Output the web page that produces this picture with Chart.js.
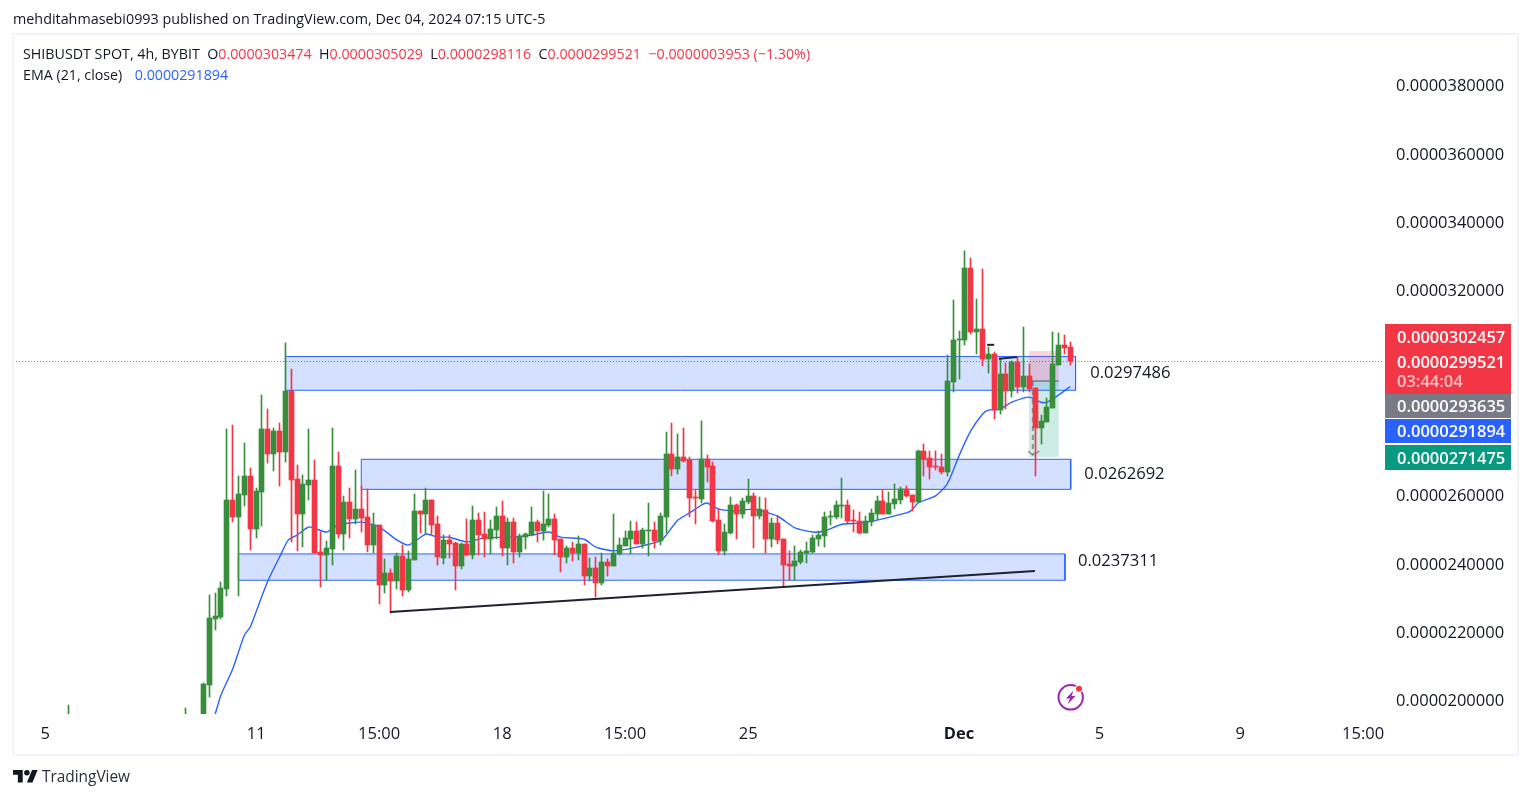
<!DOCTYPE html>
<html>
<head>
<meta charset="utf-8">
<title>SHIBUSDT</title>
<script src="https://cdn.jsdelivr.net/npm/chart.js@4"></script>
<style>
  html, body { margin: 0; padding: 0; background: #fff; width: 1529px; height: 798px; overflow: hidden; }
  body { font-family: "Open Sans", sans-serif; color: #131722; }
  .abs { position: absolute; white-space: pre; }
  #frame { left: 12px; top: 33px; width: 1503px; height: 719px; border: 2px solid #f0f3fa; }
  #chart { position: absolute; left: 0; top: 0; }
  #published { left: 13px; top: 9px; font-size: 14.35px; line-height: 20px; }
  #ohlc { left: 23px; top: 44px; font-size: 14.25px; line-height: 20px; }
  #ema { left: 23px; top: 65px; font-size: 14.25px; line-height: 20px; }
  #ema .blue { margin-left: 5px; }
  #brand { left: 42px; top: 767px; font-size: 15.4px; line-height: 20px; color: #2a2e39; }
  .red { color: #f23645; }
  .blue { color: #2962ff; }
</style>
</head>
<body>
<div id="frame" class="abs"></div>
<canvas id="chart" width="1529" height="798"></canvas>
<div id="published" class="abs">mehditahmasebi0993 published on TradingView.com, Dec 04, 2024 07:15 UTC-5</div>
<div id="ohlc" class="abs">SHIBUSDT SPOT, 4h, BYBIT  O<span class="red">0.0000303474</span>  H<span class="red">0.0000305029</span>  L<span class="red">0.0000298116</span>  C<span class="red">0.0000299521</span>  <span class="red">−0.0000003953 (−1.30%)</span></div>
<div id="ema" class="abs">EMA (21, close)  <span class="blue">0.0000291894</span></div>
<svg class="abs" style="left:13px;top:770px" width="25" height="12.5" viewBox="0 4 36 18" fill="#131722">
  <path d="M14 22H7V11H0V4h14v18zM28 22h-8l7.5-18h8L28 22z"></path><circle cx="20" cy="8" r="4"></circle>
</svg>
<div id="brand" class="abs">TradingView</div>
<svg class="abs" style="left:1056px;top:683px" width="30" height="30" viewBox="0 0 30 30">
  <circle cx="14.7" cy="14.3" r="12.2" fill="#fff" stroke="#9c27b0" stroke-width="2"></circle>
  <path d="M17.5 7.5 L10 15.5 L14 15.5 L11.5 21.5 L19.5 13 L15.5 13 Z" fill="#9c27b0"></path>
  <circle cx="23" cy="5.8" r="4.2" fill="#fff"></circle><circle cx="23" cy="5.8" r="3" fill="#f23645"></circle>
</svg>

<script>
// prices are in units of 0.000001 USDT, one slot is one 4h candle, slot 0 = Nov 5
const candleSlots = [4, 24, 27, ...Array.from({ length: 148 }, (_, i) => 28 + i)];

const opens = [
  19.0, 19.0, 19.3,
  20.45, 22.39, 22.44, 23.26, 25.87, 25.37, 26.01, 26.57, 25.02, 26.10, 27.95, 27.21, 27.89, 27.27, 29.06, 26.48,
  25.46, 26.31, 26.45, 24.35, 24.26, 24.43, 26.86, 24.87, 25.81, 25.31, 25.60, 25.37, 24.55, 25.14, 23.38, 23.73,
  23.50, 24.23, 23.23, 24.11, 25.55, 25.46, 25.87, 25.16, 24.17, 24.70, 24.61, 23.94, 24.58, 24.26, 25.28, 24.87,
  24.72, 24.99, 25.40, 24.46, 25.22, 24.35, 24.78, 24.84, 25.22, 24.96, 25.14, 25.31, 24.72, 24.20, 24.46, 24.32,
  24.58, 23.64, 23.88, 23.44, 24.05, 23.94, 24.29, 24.52, 24.72, 24.96, 24.58, 24.96, 24.99, 24.67, 25.37, 27.21,
  26.78, 27.13, 27.04, 25.96, 25.90, 27.07, 26.86, 25.28, 24.38, 24.90, 25.72, 25.46, 25.81, 25.99, 25.40, 25.58,
  24.72, 25.19, 24.72, 24.00, 23.94, 24.05, 24.32, 24.35, 24.72, 24.81, 25.37, 25.37, 25.69, 25.72, 25.28, 25.25,
  24.90, 25.22, 25.46, 25.84, 25.46, 25.75, 25.87, 26.19, 26.01, 25.81, 27.30, 27.10, 26.86, 26.83, 26.69, 29.32,
  30.55, 30.55, 32.66, 30.78, 30.87, 29.99, 30.14, 28.50, 29.56, 29.06, 29.91, 29.17, 29.50, 29.15, 27.98, 28.15,
  28.56, 29.82, 30.41, 30.35,
];
const highs = [
  19.87, 19.78, 20.51,
  23.09, 23.15, 23.47, 27.95, 28.06, 26.57, 27.54, 26.80, 26.22, 28.94, 28.53, 27.98, 28.12, 30.46, 29.70, 26.89,
  26.60, 27.95, 27.04, 24.93, 24.67, 27.98, 27.27, 25.99, 26.22, 26.75, 26.28, 26.19, 25.49, 25.14, 24.14, 23.85,
  24.32, 24.55, 24.38, 26.04, 25.55, 26.22, 25.87, 25.40, 24.84, 24.84, 24.64, 24.61, 25.31, 25.69, 25.49, 25.52,
  25.28, 25.66, 25.84, 25.34, 25.34, 24.87, 24.90, 25.66, 25.28, 26.13, 26.04, 25.46, 24.72, 24.52, 24.64, 24.81,
  24.58, 24.17, 24.20, 24.32, 24.14, 25.46, 24.75, 24.96, 25.25, 25.22, 25.05, 25.78, 25.22, 25.49, 27.86, 28.12,
  27.80, 27.98, 27.13, 26.16, 28.18, 27.18, 26.98, 25.60, 25.16, 25.96, 25.75, 25.93, 26.48, 26.07, 25.96, 25.93,
  25.34, 25.40, 24.72, 24.38, 24.52, 24.40, 24.64, 24.84, 24.96, 25.52, 25.55, 25.84, 26.51, 25.87, 25.58, 25.52,
  25.40, 25.60, 25.99, 26.16, 26.10, 26.34, 26.25, 26.28, 26.01, 27.33, 27.51, 27.30, 27.30, 27.21, 30.11, 31.72,
  30.81, 33.16, 32.95, 31.75, 32.63, 30.34, 30.20, 29.99, 29.88, 29.94, 30.05, 30.93, 29.85, 29.15, 28.36, 28.85,
  30.78, 30.75, 30.69, 30.50,
];
const lows = [
  18.9, 18.9, 19.2,
  20.10, 22.06, 22.39, 23.06, 25.23, 23.06, 25.69, 24.40, 24.76, 25.11, 26.95, 26.72, 26.28, 26.98, 24.64, 24.38,
  24.49, 25.87, 24.32, 23.32, 23.53, 23.97, 24.76, 24.40, 24.76, 25.16, 24.93, 24.35, 24.32, 22.82, 23.15, 22.56,
  23.26, 23.06, 23.17, 24.11, 24.90, 24.87, 24.87, 23.97, 24.00, 24.17, 23.23, 23.85, 24.23, 24.14, 24.26, 24.20,
  24.29, 24.72, 24.23, 23.97, 24.03, 24.20, 24.43, 24.81, 24.64, 24.70, 25.08, 24.26, 23.76, 24.03, 24.08, 24.11,
  23.38, 23.50, 23.03, 23.38, 23.64, 23.94, 24.26, 24.52, 24.29, 24.58, 24.46, 24.23, 24.46, 24.55, 24.90, 26.57,
  26.63, 26.98, 25.37, 25.16, 25.78, 26.39, 25.22, 24.26, 24.26, 24.87, 24.72, 25.34, 25.75, 24.46, 25.31, 24.32,
  24.49, 24.58, 23.32, 23.53, 23.53, 24.00, 24.03, 24.32, 24.52, 24.49, 25.14, 25.31, 25.34, 25.19, 24.93, 24.87,
  24.90, 25.11, 25.28, 25.46, 25.46, 25.60, 25.75, 25.96, 25.55, 25.81, 26.57, 26.48, 26.75, 26.63, 26.57, 29.03,
  29.41, 30.41, 30.73, 30.14, 29.79, 29.58, 28.24, 28.39, 28.53, 28.88, 29.00, 29.03, 29.03, 26.57, 27.51, 28.15,
  28.56, 29.82, 30.14, 29.81,
];
const closes = [
  19.2, 19.2, 20.48,
  22.42, 22.47, 23.29, 25.87, 25.37, 26.04, 26.57, 25.02, 26.13, 27.95, 27.21, 27.89, 27.27, 29.06, 26.45, 25.46,
  26.34, 26.45, 24.32, 24.26, 24.46, 26.86, 24.87, 25.81, 25.31, 25.60, 25.34, 24.55, 25.14, 23.38, 23.73, 23.50,
  24.23, 23.23, 24.14, 25.55, 25.46, 25.87, 25.14, 24.20, 24.70, 24.58, 23.94, 24.58, 24.26, 25.28, 24.84, 24.72,
  25.02, 25.40, 24.46, 25.22, 24.35, 24.81, 24.87, 25.22, 24.96, 25.16, 25.31, 24.70, 24.20, 24.46, 24.32, 24.58,
  23.64, 23.88, 23.44, 24.05, 23.94, 24.32, 24.55, 24.75, 24.96, 24.58, 24.99, 24.99, 24.67, 25.40, 27.21, 26.78,
  27.13, 27.01, 25.93, 25.93, 27.07, 26.83, 25.25, 24.38, 24.93, 25.72, 25.46, 25.84, 25.99, 25.40, 25.60, 24.72,
  25.19, 24.70, 23.97, 23.94, 24.08, 24.35, 24.38, 24.75, 24.84, 25.37, 25.40, 25.72, 25.72, 25.25, 25.25, 24.90,
  25.25, 25.49, 25.84, 25.46, 25.78, 25.90, 26.19, 25.99, 25.81, 27.30, 27.07, 26.83, 26.83, 26.69, 29.35, 30.55,
  30.58, 32.66, 30.78, 30.87, 29.99, 30.14, 28.50, 29.56, 29.06, 29.91, 29.17, 29.50, 29.12, 27.98, 28.18, 28.59,
  29.85, 30.41, 30.32, 29.95,
];

const emaSlots = [
  28, 29, 30, 32, 34, 35, 37, 38, 40, 41.5, 43, 45, 48, 50, 54, 57, 60, 62, 65, 67, 69, 72, 75, 79, 83, 86, 88, 92, 94,
  97, 101, 105, 106, 108, 110, 112, 113, 115, 118, 121, 125, 128, 131, 133, 136, 139, 142, 147, 148, 149, 152, 154,
  156, 158, 160, 161, 163, 165, 168, 170, 171, 173, 175,
];
const emaValues = [
  19.14, 19.60, 20.16, 20.92, 21.92, 22.15, 23.06, 23.50, 24.20, 24.70, 24.84, 25.08, 24.93, 25.14, 25.22, 25.08, 24.70,
  24.55, 24.87, 24.78, 24.78, 24.64, 24.76, 24.78, 24.84, 24.93, 24.78, 24.72, 24.49, 24.38, 24.49, 24.67, 24.84, 25.28,
  25.49, 25.72, 25.78, 25.60, 25.55, 25.60, 25.40, 25.05, 24.93, 24.96, 25.16, 25.19, 25.28, 25.49, 25.58, 25.78, 25.99,
  26.34, 27.16, 27.89, 28.38, 28.50, 28.53, 28.73, 28.88, 28.73, 28.73, 28.94, 29.19,
];

const zoneStarts = [41, 53.95, 32.95];
const zoneEnds = [175.9, 175.07, 174.1];
const zoneHighs = [30.07, 27.06, 24.29];
const zoneLows = [29.08, 26.18, 23.52];
const zoneLabels = ["0.0297486", "0.0262692", "0.0237311"];
const zoneLabelSlots = [178.4, 177.4, 176.3];
const zoneLabelValues = [29.58, 26.63, 24.08];

const trendSlots = [58.85, 168.97];
const trendValues = [22.59, 23.79];
const markSlots = [[160.8, 162], [162.8, 165.9]];
const markValues = [[30.41, 30.41], [30.0, 30.05]];

const boxSlots = [167.95, 173.02];
const boxStop = 30.23;
const boxEntry = 29.35;
const boxTarget = 27.12;
const arrowSlots = [168.6, 168.6];
const arrowValues = [29.35, 27.2];
const arrowHeadSlots = [167.8, 168.6, 169.7];
const arrowHeadValues = [27.3, 27.18, 27.3];

const lastClose = 29.92;

const priceTicks = [20, 22, 24, 26, 28, 30, 32, 34, 36, 38];
const timeTicks = [0, 36, 57, 78, 99, 120, 156, 180, 204, 225];
const timeLabels = ["5", "11", "15:00", "18", "15:00", "25", "Dec", "5", "9", "15:00"];

const tagLabels = ["0.0000302457", "0.0000299521", "0.0000293635", "0.0000291894", "0.0000271475"];
const tagColors = ["#f23645", "#f23645", "#787b86", "#2962ff", "#089981"];
const countdownLabel = "03:44:04";

const candleGreen = "#388e3c";
const candleRed = "#f23645";
const emaBlue = "#2962ff";
const fontFamily = '"Open Sans", sans-serif';

const candleColors = opens.map((open, i) => (closes[i] >= open ? candleGreen : candleRed));

function pairs(xs, ys) {
  return xs.map((x, i) => ({ x, y: ys[i] }));
}

function rectangle(x0, x1, high, low) {
  return pairs([x0, x1, x1, x0, x0], [high, high, low, low, high]);
}

function lineSet(data, color, width, order, extra) {
  return Object.assign(
    { type: "line", data, borderColor: color, borderWidth: width, pointRadius: 0, tension: 0, order },
    extra,
  );
}

const zoneSets = zoneStarts.map((start, i) =>
  lineSet(rectangle(start, zoneEnds[i], zoneHighs[i], zoneLows[i]), emaBlue, 1, 7, {
    fill: "shape",
    backgroundColor: "rgba(41, 98, 255, 0.2)",
  }),
);

const boxSets = [
  lineSet(rectangle(boxSlots[0], boxSlots[1], boxStop, boxEntry), "rgba(0,0,0,0)", 0, 6, {
    fill: "shape",
    backgroundColor: "rgba(242, 54, 69, 0.2)",
  }),
  lineSet(rectangle(boxSlots[0], boxSlots[1], boxEntry, boxTarget), "rgba(0,0,0,0)", 0, 6, {
    fill: "shape",
    backgroundColor: "rgba(8, 153, 129, 0.2)",
  }),
  lineSet(pairs(boxSlots, [boxEntry, boxEntry]), "#787b86", 1.5, 5),
  lineSet(pairs(arrowSlots, arrowValues), "rgba(120, 123, 134, 0.8)", 2, 5, { borderDash: [5, 4] }),
  lineSet(pairs(arrowHeadSlots, arrowHeadValues), "rgba(120, 123, 134, 0.8)", 1.5, 5),
];

const candleSets = [
  {
    type: "bar",
    data: candleSlots.map((slot, i) => ({ x: slot, y: [lows[i], highs[i]] })),
    backgroundColor: candleColors,
    barThickness: 1,
    grouped: false,
    order: 3,
  },
  {
    type: "bar",
    data: candleSlots.map((slot, i) => ({ x: slot, y: [opens[i], closes[i]] })),
    backgroundColor: candleColors,
    barThickness: 5,
    minBarLength: 1,
    grouped: false,
    order: 2,
  },
];

// keep the candles on whole pixels like the original
const snapBars = {
  id: "snapBars",
  afterDatasetsUpdate(chart) {
    chart.data.datasets.forEach((set, i) => {
      if (set.type !== "bar") return;
      chart.getDatasetMeta(i).data.forEach((bar) => {
        bar.x = Math.floor(bar.x) + 0.5;
        bar.y = Math.round(bar.y);
        bar.base = Math.round(bar.base);
      });
    });
  },
};

const overlayText = {
  id: "overlayText",
  afterDraw(chart) {
    const ctx = chart.ctx;
    const xScale = chart.scales.x;
    const yScale = chart.scales.y;
    ctx.save();
    ctx.textBaseline = "middle";
    ctx.textAlign = "left";

    ctx.font = `500 16.6px ${fontFamily}`;
    ctx.fillStyle = "#131722";
    zoneLabels.forEach((label, i) => {
      ctx.fillText(label, xScale.getPixelForValue(zoneLabelSlots[i]), yScale.getPixelForValue(zoneLabelValues[i]));
    });

    // the tags sit stacked in the price column, not on their exact price
    const tagLeft = xScale.right + 1;
    const tagWidth = 126;
    const tagRows = [
      { top: 324, height: 70, textY: 338 },
      { top: 349, height: 45, textY: 363 },
      { top: 394, height: 24, textY: 407.5 },
      { top: 419, height: 24, textY: 432.5 },
      { top: 445, height: 25, textY: 459 },
    ];
    tagRows.forEach((row, i) => {
      ctx.fillStyle = tagColors[i];
      ctx.fillRect(tagLeft, row.top, tagWidth, row.height);
    });
    ctx.font = `600 16.5px ${fontFamily}`;
    ctx.fillStyle = "#ffffff";
    tagRows.forEach((row, i) => {
      ctx.fillText(tagLabels[i], tagLeft + 12, row.textY);
    });
    ctx.fillStyle = "rgba(255, 255, 255, 0.7)";
    ctx.fillText(countdownLabel, tagLeft + 12, 382.5);
    ctx.restore();
  },
};

new Chart(document.getElementById("chart"), {
  data: {
    datasets: [
      ...zoneSets,
      ...boxSets,
      lineSet(pairs([-6, 229], [lastClose, lastClose]), candleRed, 1, 5, { borderDash: [1, 2] }),
      lineSet(pairs(emaSlots, emaValues), emaBlue, 1.4, 4, { tension: 0.2 }),
      ...candleSets,
      lineSet(pairs(trendSlots, trendValues), "#1e222d", 2, 1),
      ...markSlots.map((slots, i) => lineSet(pairs(slots, markValues[i]), "#1e222d", 2, 1)),
    ],
  },
  plugins: [snapBars, overlayText],
  options: {
    responsive: false,
    animation: false,
    layout: { padding: { left: 14, top: 35, right: 14, bottom: 45 } },
    plugins: { legend: { display: false }, tooltip: { enabled: false } },
    scales: {
      x: {
        type: "linear",
        offset: false,
        min: -5.34,
        max: 228.56,
        grid: { display: false, drawTicks: false },
        border: { display: false },
        afterFit(scale) {
          scale.height = 39;
        },
        afterBuildTicks(scale) {
          scale.ticks = timeTicks.map((value) => ({ value }));
        },
        ticks: {
          autoSkip: false,
          maxRotation: 0,
          padding: 10,
          color: "#131722",
          font: (ctx) => ({
            family: fontFamily,
            size: 16.5,
            weight: ctx.tick && ctx.tick.label === "Dec" ? "bold" : "500",
          }),
          callback: (value) => timeLabels[timeTicks.indexOf(value)],
        },
      },
      y: {
        type: "linear",
        position: "right",
        min: 19.605,
        max: 39.478,
        grid: { display: false, drawTicks: false },
        border: { display: false },
        afterFit(scale) {
          scale.width = 131;
        },
        afterBuildTicks(scale) {
          scale.ticks = priceTicks.map((value) => ({ value }));
        },
        ticks: {
          padding: 12,
          labelOffset: 1.2,
          color: "#131722",
          font: { family: fontFamily, size: 16.5, weight: "500" },
          callback: (value) => (value / 1e6).toFixed(10),
        },
      },
    },
  },
});
</script>
</body>
</html>
